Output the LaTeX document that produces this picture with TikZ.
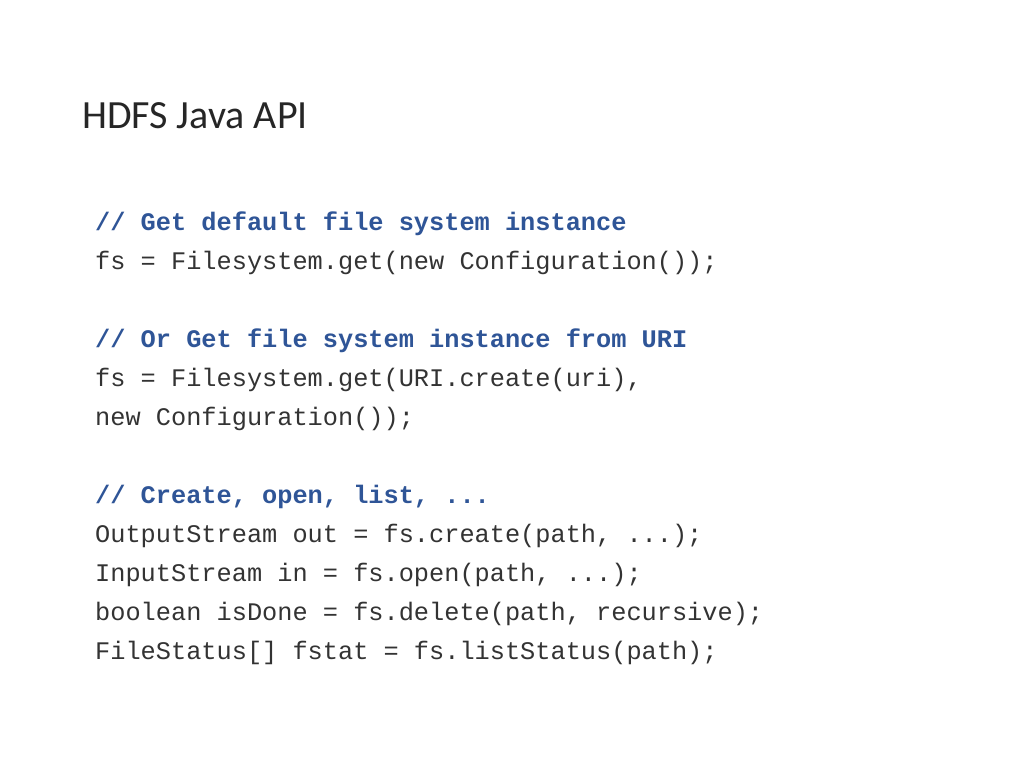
\documentclass[tikz,border=0pt]{standalone}
\usepackage{fontspec}
\setmainfont{Carlito}
\newfontfamily\codefont{Liberation Mono}
\definecolor{cmt}{HTML}{2F5597}
\definecolor{txt}{HTML}{333333}
\begin{document}
\begin{tikzpicture}[x=1pt,y=-1pt,
  code/.style={anchor=base west,inner sep=0pt,font=\codefont\fontsize{25.3}{30}\selectfont,text=txt},
  cmline/.style={code,text=cmt,font=\codefont\bfseries\fontsize{25.3}{30}\selectfont}]
\useasboundingbox (0,0) rectangle (1024,768);
\node[anchor=base west,inner sep=0pt,font=\fontsize{40}{48}\selectfont,text=black!85] (title) at (82,128) {HDFS Java API};
\node[cmline] (l1) at (95,230) {// Get default file system instance};
\node[code] (l2) at (95,269) {fs = Filesystem.get(new Configuration());};
\node[cmline] (l3) at (95,347) {// Or Get file system instance from URI};
\node[code] (l4) at (95,386) {fs = Filesystem.get(URI.create(uri),};
\node[code] (l5) at (95,425) {new Configuration());};
\node[cmline] (l6) at (95,503) {// Create, open, list, ...};
\node[code] (l7) at (95,542) {OutputStream out = fs.create(path, ...);};
\node[code] (l8) at (95,581) {InputStream in = fs.open(path, ...);};
\node[code] (l9) at (95,620) {boolean isDone = fs.delete(path, recursive);};
\node[code] (l10) at (95,659) {FileStatus[] fstat = fs.listStatus(path);};
\end{tikzpicture}
\end{document}
